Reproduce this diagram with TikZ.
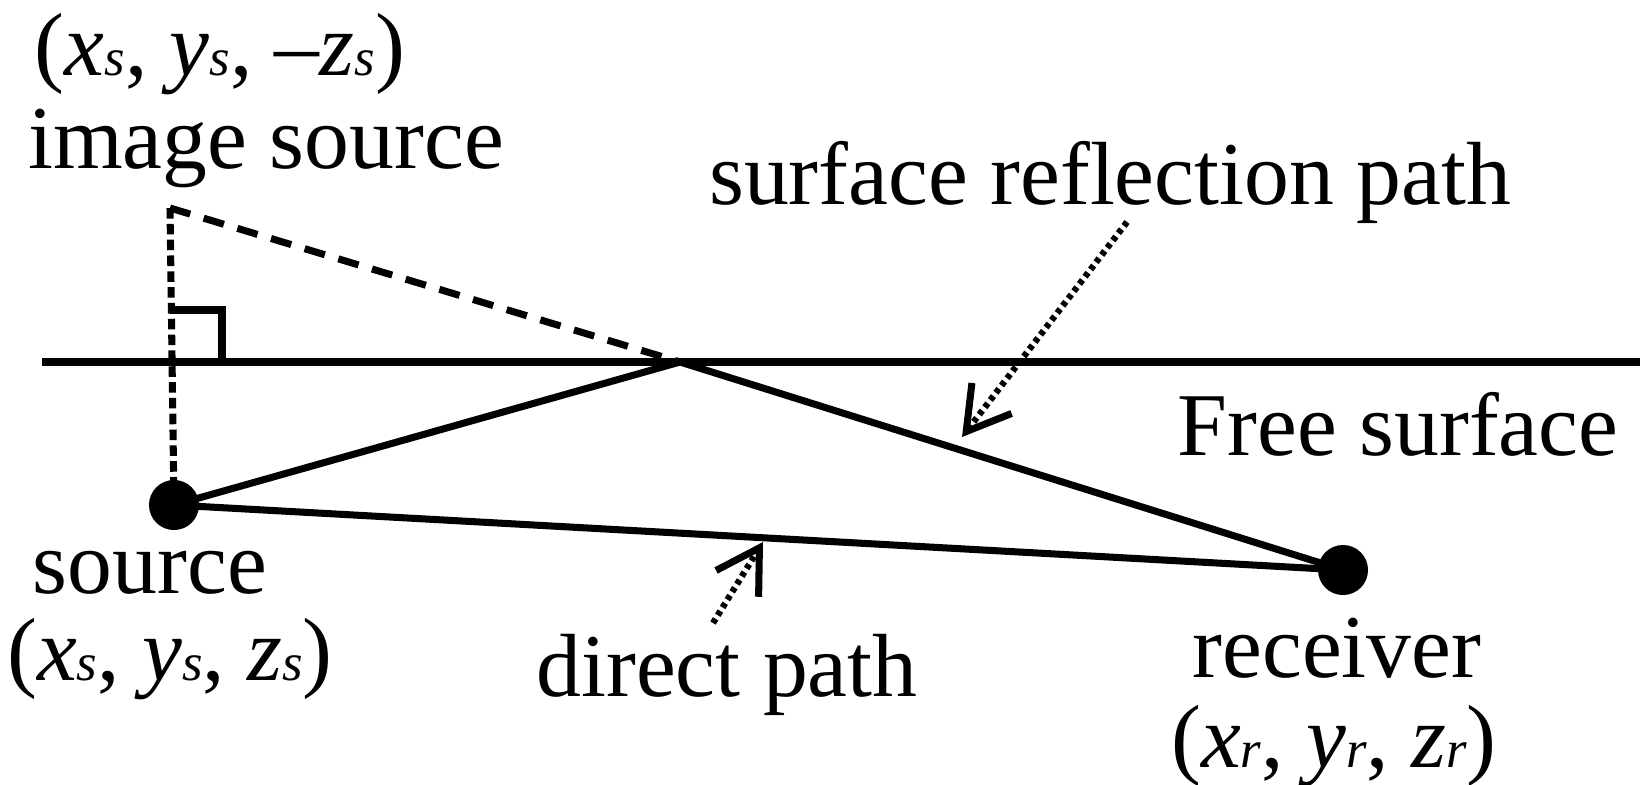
\documentclass[tikz,border=0pt]{standalone}
\usepackage{fontspec}
\setmainfont{Liberation Serif}
\usetikzlibrary{arrows.meta}

\newcommand{\lowidx}[1]{{\fontsize{15}{15}\selectfont\itshape #1}}
\newcommand{\ptlabel}[2]{(\textit{x}\lowidx{#1}, \textit{y}\lowidx{#1}, #2\textit{z}\lowidx{#1})}

\tikzset{
    lbl/.style={font=\fontsize{25.5}{30}\selectfont, inner sep=0pt, anchor=base},
    srcdot/.style={circle, fill=black, inner sep=0pt, minimum size=0.5cm},
    ray/.style={line width=2pt},
    pointer/.style={line width=1.8pt, dash pattern=on 1.4pt off 1.2pt,
        -{Straight Barb[length=0.42cm, width=0.5cm, line width=2pt]}}
}

\begin{document}
\begin{tikzpicture}[x=0.01cm, y=-0.01cm]
    \useasboundingbox (0,0) rectangle (1640,784);

    % free surface
    \coordinate (surfL) at (42, 362);
    \coordinate (surfR) at (1640, 362);
    \coordinate (refl) at (680, 362);
    \draw[ray] (surfL) -- (surfR);
    \node[lbl] (freelbl) at (1398, 455) {Free surface};

    % source, image source and receiver
    \coordinate (img) at (170, 208);
    \node[srcdot] (src) at (174, 505) {};
    \node[srcdot] (rcv) at (1343, 570) {};

    \draw[line width=2pt, dash pattern=on 3pt off 1.5pt] (img) -- (src.center);
    \draw[line width=2pt] (170, 310) -| (222, 362);
    \draw[line width=2pt, dash pattern=on 6pt off 4pt] (img) -- (refl);

    % paths
    \draw[ray] (src.center) -- (refl) -- (rcv.center);
    \draw[ray] (src.center) -- (rcv.center);

    % labels
    \node[lbl] (imgpos) at (220, 75) {\ptlabel{s}{–}};
    \node[lbl] (imglbl) at (266, 168) {image source};
    \node[lbl] (srclbl) at (150, 593) {source};
    \node[lbl] (srcpos) at (170, 680) {\ptlabel{s}{}};
    \node[lbl] (rcvlbl) at (1337, 677) {receiver};
    \node[lbl] (rcvpos) at (1334, 767) {\ptlabel{r}{}};
    \node[lbl] (srplbl) at (1110, 204) {surface reflection path};
    \node[lbl] (dirlbl) at (727, 696) {direct path};

    % pointers
    \coordinate (srpTail) at (1127, 222);
    \coordinate (srpTip) at (962, 437);
    \coordinate (dirTail) at (713, 623);
    \coordinate (dirTip) at (763, 542);
    \draw[pointer] (srpTail) -- (srpTip);
    \draw[pointer] (dirTail) -- (dirTip);
\end{tikzpicture}
\end{document}
